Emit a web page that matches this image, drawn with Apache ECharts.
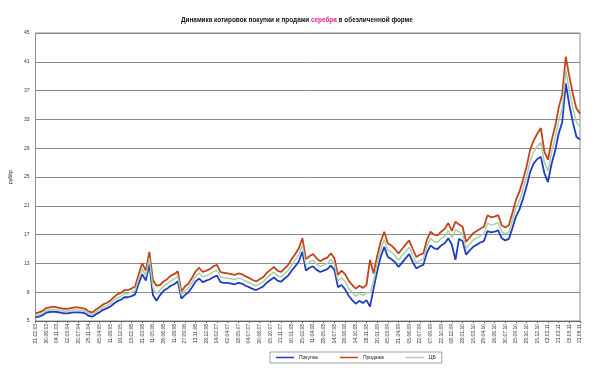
<!DOCTYPE html>
<html><head><meta charset="utf-8">
<script src="https://cdn.jsdelivr.net/npm/echarts@6/dist/echarts.min.js"></script>
<style>html,body{margin:0;padding:0;background:#fff}#c{width:600px;height:368px}</style>
</head><body><div id="c"></div>
<script>
const tickLabels = ['21.02.03','30.06.03','04.11.03','12.03.04','20.07.04','25.11.04','05.04.05','11.08.05','19.12.05','13.02.06','31.03.06','11.05.06','26.06.06','11.08.06','27.09.06','13.11.06','28.12.06','14.02.07','02.04.07','18.05.07','04.07.07','20.08.07','05.10.07','21.11.07','10.01.08','25.02.08','11.04.08','28.05.08','14.07.08','28.08.08','14.10.08','28.11.08','20.01.09','05.03.09','21.04.09','05.06.09','22.07.09','07.09.09','22.10.09','08.12.09','28.01.10','15.03.10','29.04.10','16.06.10','30.07.10','15.09.10','29.10.10','15.12.10','03.02.11','21.03.11','05.05.11','21.06.11'];
const sell = [6.1,6.2,6.4,6.8,6.9,7.0,6.9,6.8,6.7,6.7,6.8,6.9,6.9,6.8,6.7,6.3,6.2,6.6,6.9,7.3,7.5,7.8,8.3,8.7,8.9,9.3,9.3,9.5,9.8,11.5,13.0,12.0,14.6,10.7,9.9,10.0,10.5,10.8,11.3,11.5,11.9,9.1,9.8,10.2,11.0,11.9,12.4,11.8,12.0,12.2,12.6,12.8,11.8,11.7,11.6,11.5,11.4,11.6,11.5,11.2,11.0,10.7,10.5,10.8,11.1,11.7,12.1,12.5,12.0,11.8,12.3,12.8,13.6,14.3,15.1,16.5,13.6,14.0,14.3,13.7,13.3,13.6,13.8,14.4,13.7,11.4,12.0,11.5,10.6,10.0,9.5,9.9,9.6,10.0,13.5,11.6,14.0,16.0,17.4,15.8,15.5,15.0,14.4,15.0,15.6,16.2,15.0,13.9,14.2,14.4,16.3,17.4,17.0,16.9,17.4,17.8,18.6,17.5,18.8,18.4,18.1,16.0,16.6,17.2,17.5,17.8,18.1,19.7,19.4,19.5,19.7,18.3,18.0,18.3,20.0,21.8,23.0,24.6,26.5,28.8,30.1,31.0,31.8,28.5,27.4,30.0,32.0,34.6,36.5,41.7,39.0,36.5,34.5,33.8];
const buy = [5.55,5.6,5.8,6.15,6.25,6.3,6.25,6.15,6.05,6.05,6.15,6.2,6.2,6.15,6.05,5.7,5.6,5.95,6.2,6.55,6.75,7.0,7.4,7.75,7.95,8.3,8.3,8.45,8.7,10.2,11.5,10.6,12.9,8.6,7.8,8.6,9.2,9.5,9.9,10.1,10.5,8.1,8.6,9.0,9.7,10.5,10.9,10.4,10.6,10.8,11.1,11.3,10.4,10.3,10.3,10.2,10.1,10.3,10.2,9.9,9.7,9.45,9.3,9.55,9.8,10.35,10.7,11.05,10.6,10.45,10.9,11.3,12.0,12.6,13.3,14.6,12.0,12.4,12.6,12.1,11.8,12.0,12.2,12.7,12.1,9.7,10.0,9.4,8.5,7.9,7.4,7.8,7.5,7.9,7.0,9.5,11.9,13.9,15.3,13.9,13.6,13.2,12.5,13.1,13.7,14.3,13.2,12.3,12.6,12.8,14.5,15.5,15.1,15.0,15.5,15.8,16.5,15.6,13.5,16.4,16.1,14.2,14.8,15.3,15.6,15.9,16.1,17.5,17.3,17.4,17.6,16.5,16.2,16.4,17.9,19.5,20.5,22.0,23.7,25.7,26.9,27.5,27.8,25.5,24.3,26.8,28.6,31.0,32.6,38.0,35.0,32.6,30.6,30.2];
const cb = [5.8,5.9,6.1,6.45,6.55,6.6,6.55,6.45,6.35,6.35,6.45,6.55,6.55,6.45,6.35,6.0,5.9,6.25,6.55,6.9,7.1,7.4,7.85,8.2,8.4,8.8,8.8,9.0,9.25,10.85,12.25,11.3,13.75,9.6,8.8,9.3,9.85,10.15,10.6,10.8,11.2,8.6,9.2,9.6,10.35,11.2,11.65,11.1,11.3,11.5,11.85,12.05,11.1,11.0,10.95,10.85,10.75,10.95,10.85,10.55,10.35,10.1,9.9,10.2,10.45,11.0,11.4,11.8,11.3,11.1,11.6,12.05,12.8,13.45,14.2,15.55,12.8,13.2,13.45,12.9,12.55,12.8,13.0,13.55,12.9,10.55,11.0,10.45,9.55,8.95,8.45,8.85,8.55,8.95,8.9,10.55,12.95,14.95,16.35,14.85,14.55,14.1,13.45,14.05,14.65,15.25,14.1,13.1,13.4,13.6,15.4,16.45,16.05,15.95,16.45,16.8,17.55,16.55,17.65,17.4,17.1,15.1,15.7,16.25,16.55,16.85,17.1,18.6,18.35,18.45,18.65,17.4,17.1,17.35,18.95,20.65,21.75,23.3,25.1,27.25,28.5,29.25,29.8,27.0,25.85,28.4,30.3,32.8,34.55,39.85,37.0,34.55,32.55,32.0];
const seriesNames = ['Покупка','Продажа','ЦБ'];

const categories = [];
for (let i = 0; i < sell.length; i++) {
  categories.push(i % 3 === 0 ? (tickLabels[i / 3] || '') : '');
}

const chart = echarts.init(document.getElementById('c'), null, {renderer: 'canvas'});
chart.setOption({
  animation: false,
  backgroundColor: '#fff',
  title: {
    text: '{a|Динамика котировок покупки и продажи }{b|серебра}{a| в обезличенной форме}',
    left: 176, top: 12,
    textStyle: {
      rich: {
        a: {fontFamily: 'Liberation Sans', fontSize: 6.4, fontWeight: 'bold', color: '#111'},
        b: {fontFamily: 'Liberation Sans', fontSize: 6.4, fontWeight: 'bold', color: '#e0208f'}
      }
    }
  },
  legend: {
    data: seriesNames,
    bottom: 5, left: 270,
    icon: 'rect', itemWidth: 18, itemHeight: 1.5, itemGap: 22,
    borderColor: '#888', borderWidth: 0.8, padding: [3, 6],
    textStyle: {fontFamily: 'Liberation Sans', fontSize: 5, color: '#222'}
  },
  grid: {left: 29, top: 33, width: 551, height: 288, show: true, borderColor: '#8a8a8a', borderWidth: 1, backgroundColor: '#fff'},
  xAxis: {
    type: 'category', data: categories, boundaryGap: false,
    axisLine: {show: true, lineStyle: {color: '#666'}},
    axisTick: {show: true, interval: 2, length: 2, lineStyle: {color: '#666'}},
    axisLabel: {interval: 2, rotate: 90, fontSize: 5, color: '#333', fontFamily: 'Liberation Sans', margin: 3},
    splitLine: {show: false}
  },
  yAxis: {
    type: 'value', min: 5, max: 45, interval: 4,
    name: 'руб/гр', nameLocation: 'middle', nameRotate: 90, nameGap: 16,
    nameTextStyle: {fontFamily: 'Liberation Sans', fontSize: 5, color: '#222'},
    axisLine: {show: false}, axisTick: {show: false},
    axisLabel: {fontSize: 5, color: '#333', fontFamily: 'Liberation Sans', margin: 6},
    splitLine: {lineStyle: {color: '#8a8a8a', width: 1}}
  },
  series: [
    {name: seriesNames[0], type: 'line', data: buy, showSymbol: false, lineStyle: {color: '#1f3cc4', width: 1.8}, itemStyle: {color: '#1f3cc4'}},
    {name: seriesNames[1], type: 'line', data: sell, showSymbol: false, lineStyle: {color: '#c2441b', width: 1.8}, itemStyle: {color: '#c2441b'}},
    {name: seriesNames[2], type: 'line', data: cb, showSymbol: false, lineStyle: {color: '#a6cfa8', width: 1.5}, itemStyle: {color: '#a6cfa8'}}
  ]
});
</script></body></html>
